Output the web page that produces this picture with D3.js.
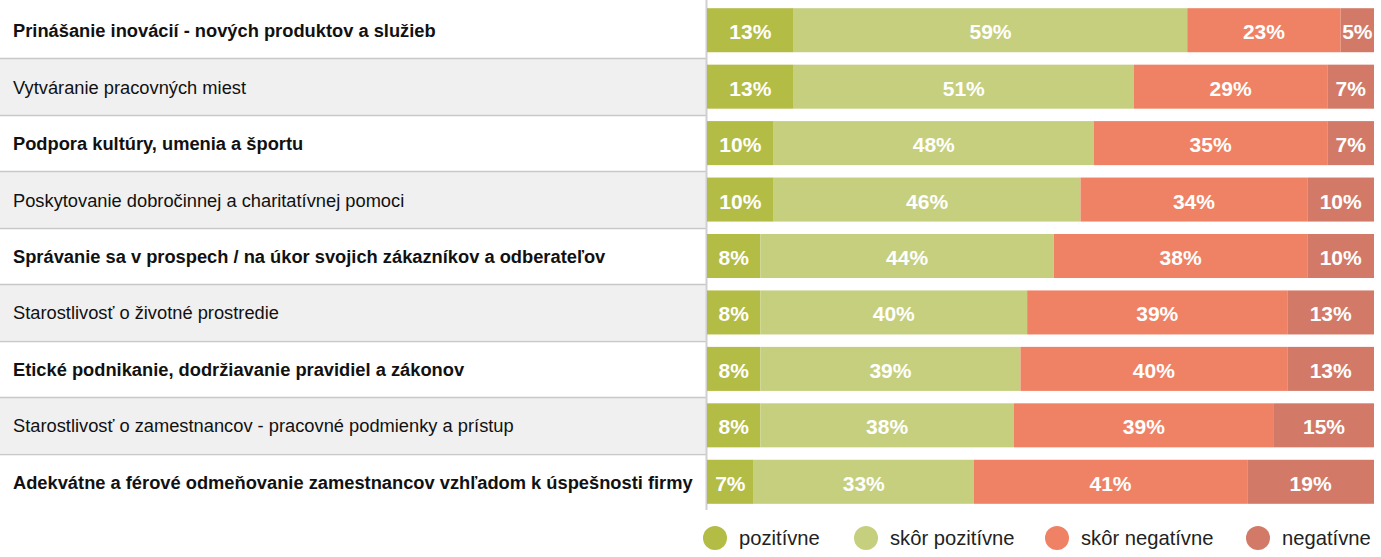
<!DOCTYPE html>
<html><head><meta charset="utf-8">
<script src="https://cdn.jsdelivr.net/npm/d3@7"></script>
<style>body{margin:0;background:#fff;}svg{display:block;font-family:"Liberation Sans",Arial,sans-serif;}</style>
</head><body>
<svg id="chart" width="1381" height="557"></svg>
<script>
const categories = [
  "Prinášanie inovácií - nových produktov a služieb",
  "Vytváranie pracovných miest",
  "Podpora kultúry, umenia a športu",
  "Poskytovanie dobročinnej a charitatívnej pomoci",
  "Správanie sa v prospech / na úkor svojich zákazníkov a odberateľov",
  "Starostlivosť o životné prostredie",
  "Etické podnikanie, dodržiavanie pravidiel a zákonov",
  "Starostlivosť o zamestnancov - pracovné podmienky a prístup",
  "Adekvátne a férové odmeňovanie zamestnancov vzhľadom k úspešnosti firmy"
];
const seriesNames = ["pozitívne", "skôr pozitívne", "skôr negatívne", "negatívne"];
const pozitivne = [13, 13, 10, 10, 8, 8, 8, 8, 7];
const skorPozitivne = [59, 51, 48, 46, 44, 40, 39, 38, 33];
const skorNegativne = [23, 29, 35, 34, 38, 39, 40, 39, 41];
const negativne = [5, 7, 7, 10, 10, 13, 13, 15, 19];
const colors = ["#b3bc45", "#c5cf7e", "#ef8264", "#d27a67"];

const series = [pozitivne, skorPozitivne, skorNegativne, negativne];
const table = categories.map((c, i) => {
  const o = {cat: c};
  seriesNames.forEach((s, j) => o[s] = series[j][i]);
  return o;
});
const stacked = d3.stack().keys(seriesNames)(table);

const svg = d3.select("#chart");
const axisX = 706;
const rowBand = d3.scaleBand().domain(categories).range([2, 510]).padding(0);
const y = d3.scaleBand().domain(categories).range([2, 510]).paddingInner(0.22).paddingOuter(0.11);
const x = d3.scaleLinear().domain([0, 100]).range([707, 1374]);
const color = d3.scaleOrdinal().domain(seriesNames).range(colors);

// row stripes
svg.append("g").selectAll("rect").data(categories).join("rect")
  .attr("x", 0).attr("width", axisX)
  .attr("y", d => rowBand(d)).attr("height", rowBand.bandwidth())
  .attr("fill", (d, i) => i % 2 === 1 ? "#f0f0f0" : "#ffffff");
svg.append("g").selectAll("line").data(categories.slice(0, -1)).join("line")
  .attr("x1", 0).attr("x2", axisX)
  .attr("y1", d => Math.round(rowBand(d) + rowBand.bandwidth()) + 0.5)
  .attr("y2", d => Math.round(rowBand(d) + rowBand.bandwidth()) + 0.5)
  .attr("stroke", "#c8c8c8").attr("stroke-width", 1.3);

// category labels
svg.append("g").selectAll("text").data(categories).join("text")
  .attr("x", 13).attr("y", d => rowBand(d) + rowBand.bandwidth() / 2)
  .attr("dy", "0.38em")
  .attr("font-size", 18.3)
  .attr("font-weight", (d, i) => i % 2 === 0 ? "bold" : "normal")
  .attr("fill", "#111")
  .text(d => d);

// vertical axis line
svg.append("line").attr("x1", axisX + 0.5).attr("x2", axisX + 0.5)
  .attr("y1", 0).attr("y2", 510).attr("stroke", "#d0d0d0").attr("stroke-width", 2);

// bars
const groups = svg.append("g").selectAll("g").data(stacked).join("g")
  .attr("fill", d => color(d.key));
groups.selectAll("rect").data(d => d).join("rect")
  .attr("x", d => x(d[0])).attr("width", d => x(d[1]) - x(d[0]))
  .attr("y", d => y(d.data.cat)).attr("height", y.bandwidth());

// value labels
const lab = svg.append("g");
stacked.forEach(s => {
  lab.selectAll(null).data(s).join("text")
    .attr("x", d => (x(d[0]) + x(d[1])) / 2)
    .attr("y", d => y(d.data.cat) + y.bandwidth() / 2)
    .attr("dy", "0.43em")
    .attr("text-anchor", "middle")
    .attr("font-size", 21).attr("font-weight", "bold").attr("fill", "#fff")
    .text(d => (d[1] - d[0]) + "%");
});

// legend
const legendX = [715, 866, 1057, 1258];
const lg = svg.append("g").selectAll("g").data(seriesNames).join("g")
  .attr("transform", (d, i) => `translate(${legendX[i]},538)`);
lg.append("circle").attr("r", 12).attr("fill", d => color(d));
lg.append("text").attr("x", 24).attr("dy", "0.35em")
  .attr("font-size", 20.2).attr("fill", "#222").text(d => d);
</script>
</body></html>
